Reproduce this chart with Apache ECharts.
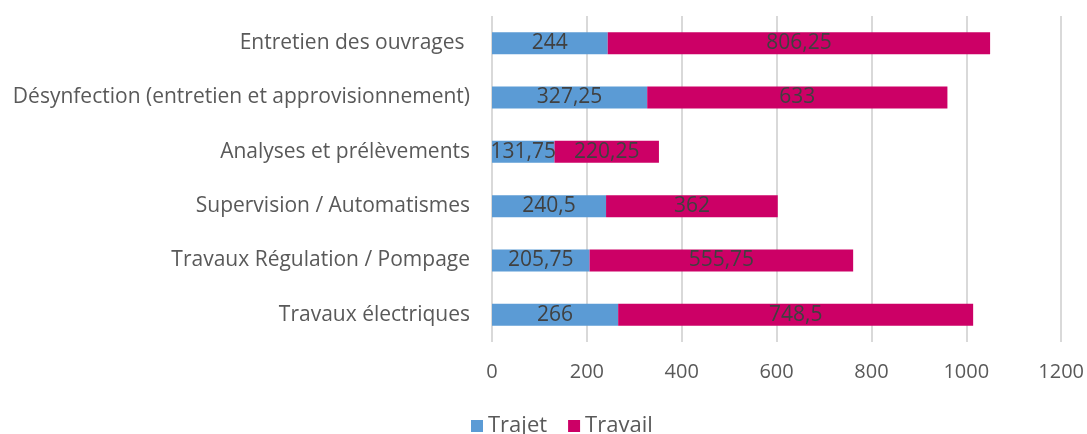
<!DOCTYPE html>
<html lang="fr">
<head>
    <meta charset="UTF-8">
    <title>Trajet / Travail</title>
    <script src="https://cdn.jsdelivr.net/npm/echarts@6/dist/echarts.min.js"></script>
    <style>
        html, body { margin: 0; padding: 0; background: #fff; }
    </style>
</head>
<body>
    <div id="myChart" style="width: 1087px; height: 434px;"></div>
    <script>
        // catégories de bas en haut (axe vertical inversé par ECharts)
        const categories = [
            'Travaux électriques',
            'Travaux Régulation / Pompage',
            'Supervision / Automatismes',
            'Analyses et prélèvements',
            'Désynfection (entretien et approvisionnement)',
            'Entretien des ouvrages '
        ];
        const trajet = [266, 205.75, 240.5, 131.75, 327.25, 244];
        const travail = [748.5, 555.75, 362, 220.25, 633, 806.25];

        const myChart = echarts.init(document.getElementById('myChart'));
        const font = '"Open Sans", Lato, sans-serif';
        const fmt = (p) => String(p.value).replace('.', ',');

        const labelStyle = {
            show: true,
            position: 'inside',
            color: '#404040',
            fontSize: 21,
            fontFamily: font,
            formatter: fmt
        };

        const option = {
            animation: false,
            textStyle: { fontFamily: font },
            grid: { left: 492, right: 24, top: 16, height: 326 },
            legend: {
                left: 466,
                top: 410,
                itemWidth: 12,
                itemHeight: 12,
                itemGap: 21,
                icon: 'rect',
                textStyle: { color: '#595959', fontSize: 22, fontFamily: font },
                data: ['Trajet', 'Travail']
            },
            xAxis: {
                type: 'value',
                min: 0,
                max: 1200,
                interval: 200,
                axisLine: { show: false },
                axisTick: { show: false },
                axisLabel: {
                    color: '#595959',
                    fontSize: 20,
                    margin: 20,
                    fontFamily: font,
                    formatter: (v) => String(v)
                },
                splitLine: { lineStyle: { color: '#d9d9d9', width: 2 } }
            },
            yAxis: {
                type: 'category',
                data: categories,
                axisLine: { show: false },
                axisTick: { show: false },
                axisLabel: { color: '#595959', fontSize: 21, margin: 22, fontFamily: font }
            },
            series: [
                {
                    name: 'Trajet',
                    type: 'bar',
                    stack: 'total',
                    barWidth: 22,
                    data: trajet,
                    itemStyle: { color: '#5B9BD5' },
                    label: labelStyle
                },
                {
                    name: 'Travail',
                    type: 'bar',
                    stack: 'total',
                    barWidth: 22,
                    data: travail,
                    itemStyle: { color: '#CC0066' },
                    label: labelStyle
                }
            ]
        };
        myChart.setOption(option);
    </script>
</body>
</html>
